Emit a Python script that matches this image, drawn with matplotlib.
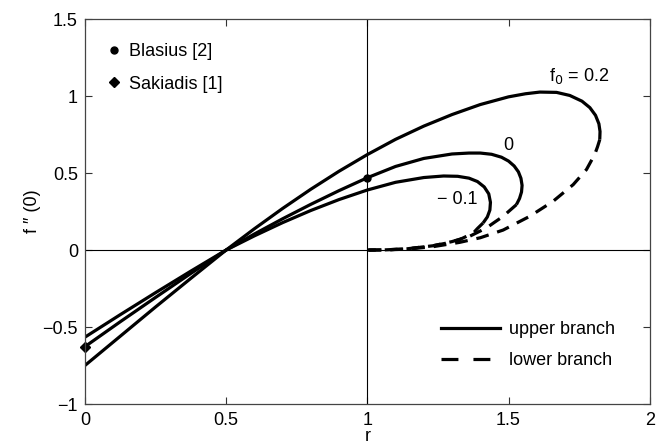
import matplotlib
matplotlib.use("Agg")
import matplotlib.pyplot as plt
from matplotlib.lines import Line2D

plt.rcParams['font.family'] = ['Liberation Sans', 'DejaVu Sans']

# upper branch (solid)
r_up_02 = [0, 0.125, 0.25, 0.375, 0.5, 0.6, 0.7, 0.8, 0.9, 1.0, 1.1, 1.2, 1.3, 1.4, 1.5, 1.56, 1.611,
           1.67, 1.717, 1.76, 1.788, 1.808, 1.82, 1.824, 1.823]
f_up_02 = [-0.75, -0.56, -0.37, -0.184, 0, 0.138, 0.27, 0.395, 0.512, 0.62, 0.719, 0.805, 0.88, 0.945, 0.995,
           1.015, 1.026, 1.024, 1.004, 0.967, 0.925, 0.875, 0.82, 0.77, 0.717]

r_up_0 = [0, 0.125, 0.25, 0.375, 0.5, 0.6, 0.7, 0.8, 0.9, 1.0, 1.1, 1.2, 1.3, 1.36, 1.4, 1.44, 1.475, 1.5,
          1.52, 1.535, 1.544, 1.548, 1.546, 1.539, 1.528]
f_up_0 = [-0.6275, -0.466, -0.308, -0.152, 0, 0.104, 0.203, 0.297, 0.386, 0.4696, 0.543, 0.595, 0.624, 0.63, 0.63,
          0.622, 0.603, 0.578, 0.546, 0.508, 0.466, 0.42, 0.377, 0.335, 0.295]

r_up_m01 = [0, 0.125, 0.25, 0.375, 0.5, 0.6, 0.7, 0.8, 0.9, 1.0, 1.1, 1.2, 1.27, 1.32, 1.36, 1.39,
            1.414, 1.43, 1.436, 1.434, 1.425, 1.41]
f_up_m01 = [-0.566, -0.42, -0.277, -0.137, 0, 0.092, 0.178, 0.257, 0.328, 0.39, 0.44, 0.471, 0.481, 0.479,
            0.467, 0.445, 0.41, 0.365, 0.31, 0.26, 0.215, 0.176]

# lower branch (dashed)
r_lo_02 = [1.823, 1.815, 1.805, 1.776, 1.729, 1.658, 1.575, 1.481, 1.40, 1.327, 1.233, 1.14, 1.06, 1.0]
f_lo_02 = [0.717, 0.67, 0.62, 0.523, 0.425, 0.317, 0.219, 0.13, 0.08, 0.05, 0.022, 0.006, 0.001, 0.0]

r_lo_0 = [1.528, 1.50, 1.481, 1.45, 1.422, 1.363, 1.30, 1.233, 1.14, 1.06, 1.0]
f_lo_0 = [0.295, 0.25, 0.219, 0.18, 0.144, 0.09, 0.055, 0.028, 0.008, 0.001, 0.0]

r_lo_m01 = [1.41, 1.39, 1.375, 1.327, 1.28, 1.233, 1.14, 1.06, 1.0]
f_lo_m01 = [0.176, 0.14, 0.11, 0.068, 0.045, 0.028, 0.008, 0.001, 0.0]

blasius = (1.0, 0.4696)
sakiadis = (0.0, -0.6275)

fs = 13
fig = plt.figure(figsize=(6.63, 4.44), dpi=100)
ax = fig.add_axes([0.128, 0.09, 0.852, 0.867])

lw = 2.3
dash = (4, 2.8)
ax.axhline(0, color='black', lw=0.8)
ax.axvline(1, color='black', lw=0.8)

for r, f in [(r_up_02, f_up_02), (r_up_0, f_up_0), (r_up_m01, f_up_m01)]:
    ax.plot(r, f, color='black', lw=lw, solid_capstyle='butt', solid_joinstyle='round')
for r, f in [(r_lo_02, f_lo_02), (r_lo_0, f_lo_0), (r_lo_m01, f_lo_m01)]:
    ax.plot(r, f, color='black', lw=lw, dashes=dash, dash_capstyle='butt')

ax.plot(*blasius, 'o', color='black', ms=5, clip_on=False)
ax.plot(*sakiadis, 'D', color='black', ms=5, clip_on=False)

ax.text(1.645, 1.10, r'f$_0$ = 0.2', fontsize=fs)
ax.text(1.48, 0.682, '0', fontsize=fs, va='center')
ax.text(1.246, 0.331, '\u2212 0.1', fontsize=fs, va='center')

h1 = [Line2D([], [], ls='none', marker='o', color='black', ms=5),
      Line2D([], [], ls='none', marker='D', color='black', ms=5)]
leg1 = ax.legend(h1, ['Blasius [2]', 'Sakiadis [1]'], loc='upper left',
                 bbox_to_anchor=(0.038, 0.937), frameon=False, fontsize=fs,
                 handlelength=0.8, handletextpad=0.45, labelspacing=0.85,
                 borderpad=0, borderaxespad=0)
ax.add_artist(leg1)
h2 = [Line2D([], [], color='black', lw=lw),
      Line2D([], [], color='black', lw=lw, dashes=(5.3, 4.7))]
ax.legend(h2, ['upper branch', 'lower branch'], loc='upper left',
          bbox_to_anchor=(0.63, 0.216), frameon=False, fontsize=fs,
          handlelength=3.3, handletextpad=0.5, labelspacing=0.78,
          borderpad=0, borderaxespad=0)

ax.set_xlim(0, 2)
ax.set_ylim(-1, 1.5)
ax.set_xticks([0, 0.5, 1, 1.5, 2])
ax.set_xticklabels(['0', '0.5', '1', '1.5', '2'])
ax.set_yticks([-1, -0.5, 0, 0.5, 1, 1.5])
ax.set_yticklabels(['\u22121', '\u22120.5', '0', '0.5', '1', '1.5'])
ax.tick_params(direction='in', top=True, right=True, length=5, width=0.8,
               labelsize=fs, colors='#333333', labelcolor='black')
ax.tick_params(axis='x', pad=6)
ax.tick_params(axis='y', pad=5)
for s in ax.spines.values():
    s.set_color('#444444')
    s.set_linewidth(0.9)
ax.set_xlabel('r', fontsize=fs, labelpad=-1)
ax.set_ylabel('f \u2033 (0)', fontsize=fs, labelpad=1)

fig.savefig('out.png', dpi=100)
